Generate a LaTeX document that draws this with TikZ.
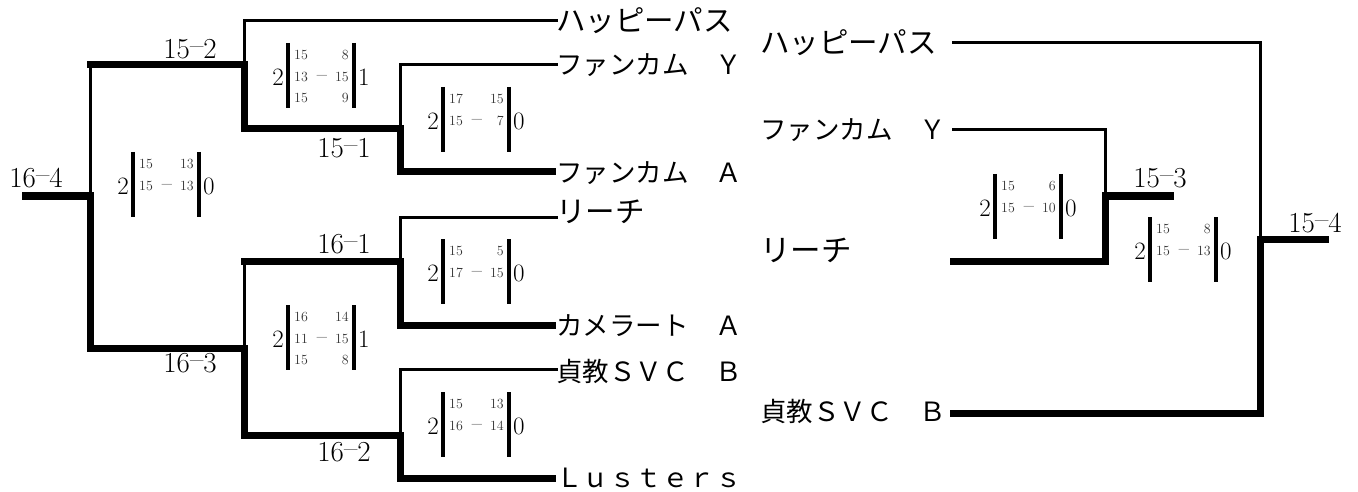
\documentclass[tikz,border=0pt]{standalone}
\usepackage{fontspec}
\newfontfamily\jp{Noto Sans CJK JP}
\newcommand\res[2]{#1\raisebox{0.3ex}{--}#2}
\newcommand\scorebox[5]{%
  \begin{scope}[shift={#2}]
    \draw[scorebar] (0,0) -- (0,65);
    \draw[scorebar] (66,0) -- (66,65);
    \node[bignum, anchor=east] (#1-l) at (-4,34) {#3};
    \node[bignum, anchor=west] (#1-r) at (70,34) {#4};
    \node[dashnum] (#1-d) at (34,35) {--};
    \foreach \r/\a/\b in {#5} {
      \node[smallnum, anchor=west] (#1-a\r) at (6,{12+21.5*(\r-1)}) {\a};
      \node[smallnum, anchor=east] (#1-b\r) at (61,{12+21.5*(\r-1)}) {\b};
    }
  \end{scope}}
\begin{document}
\begin{tikzpicture}[x=1pt,y=-1pt,
  thinln/.style={line width=3pt, line cap=rect, line join=miter},
  thickln/.style={line width=7pt, line cap=rect, line join=miter},
  scorebar/.style={line width=4pt},
  bignum/.style={inner sep=0pt, font=\fontsize{25}{25}\selectfont},
  smallnum/.style={inner sep=0pt, font=\fontsize{14}{14}\selectfont, text=black!80},
  dashnum/.style={inner sep=0pt, font=\fontsize{22}{22}\selectfont},
  result/.style={inner sep=0pt, font=\fontsize{29}{29}\selectfont},
  team/.style={inner sep=0pt, anchor=west, font=\jp\fontsize{26.5}{26.5}\selectfont},
  teamw/.style={inner sep=0pt, anchor=west, font=\jp\fontsize{29.5}{29.5}\selectfont}]
\useasboundingbox (0,0) rectangle (1358,492);

% ---------- left half: junction points ----------
\coordinate (a0) at (25,196);
\coordinate (a1) at (90,196);
\coordinate (a2) at (90,65);
\coordinate (a3) at (90,348);
\coordinate (b0) at (244,21);
\coordinate (b1) at (244,65);
\coordinate (b2) at (244,129);
\coordinate (b3) at (244,261);
\coordinate (b4) at (244,348);
\coordinate (b5) at (244,435);
\coordinate (c1) at (400,65);
\coordinate (c2) at (400,129);
\coordinate (c3) at (400,172);
\coordinate (c4) at (400,217);
\coordinate (c5) at (400,261);
\coordinate (c6) at (400,325);
\coordinate (c7) at (400,369);
\coordinate (c8) at (400,435);
\coordinate (c9) at (400,478);

% left teams
\node[teamw] (L1) at (556,21) {ハッピーパス};
\node[team]  (L2) at (556,65) {ファンカム　Ｙ};
\node[team]  (L3) at (556,173) {ファンカム　Ａ};
\node[teamw] (L4) at (556,212) {リーチ};
\node[team]  (L5) at (556,326) {カメラート　Ａ};
\node[team]  (L6) at (556,371) {貞教ＳＶＣ　Ｂ};
\node[team]  (L7) at (556,478) {Ｌｕｓｔｅｒｓ};

% thin lines
\draw[thinln] (a2) -- (a1);
\draw[thinln] (L1.west |- b0) -- (b0) -- (b1);
\draw[thinln] (L2.west |- c1) -- (c1) -- (c2);
\draw[thinln] (L4.west |- c4) -- (c4) -- (c5);
\draw[thinln] (b3) -- (b4);
\draw[thinln] (L6.west |- c7) -- (c7) -- (c8);

% thick lines
\draw[thickln] (a0) -- (a1) -- (a3) -- (b4) -- (b5) -- (c8) -- (c9) -- ([xshift=-4pt]L7.west |- c9);
\draw[thickln] (a2) -- (b1) -- (b2) -- (c2) -- (c3) -- ([xshift=-4pt]L3.west |- c3);
\draw[thickln] (b3) -- (c5) -- (c6) -- ([xshift=-4pt]L5.west |- c6);

% results
\node[result] (r164) at (36,178) {\res{16}{4}};
\node[result] (r152) at (190,49) {\res{15}{2}};
\node[result] (r163) at (190,363) {\res{16}{3}};
\node[result] (r151) at (344,148) {\res{15}{1}};
\node[result] (r161) at (344,244) {\res{16}{1}};
\node[result] (r162) at (344,452) {\res{16}{2}};

% scores
\scorebox{s1}{(133,152)}{2}{0}{1/15/13, 2/15/13}
\scorebox{s2}{(288,43)}{2}{1}{1/15/8, 2/13/15, 3/15/9}
\scorebox{s3}{(443,87)}{2}{0}{1/17/15, 2/15/7}
\scorebox{s4}{(288,305)}{2}{1}{1/16/14, 2/11/15, 3/15/8}
\scorebox{s5}{(443,239)}{2}{0}{1/15/5, 2/17/15}
\scorebox{s6}{(443,392)}{2}{0}{1/15/13, 2/16/14}

% ---------- right half ----------
\node[teamw] (R1) at (760,43) {ハッピーパス};
\node[team]  (R2) at (760,130) {ファンカム　Ｙ};
\node[inner sep=0pt, anchor=west, font=\jp\fontsize{30.5}{30.5}\selectfont] (R3) at (760,250) {リーチ};
\node[team]  (R4) at (760,411) {貞教ＳＶＣ　Ｂ};

\coordinate (p1) at (953,43);
\coordinate (p2) at (953,130);
\coordinate (p3) at (953,261);
\coordinate (p4) at (953,413);
\coordinate (d1) at (1105,130);
\coordinate (d2) at (1105,196);
\coordinate (d3) at (1105,261);
\coordinate (d4) at (1170,196);
\coordinate (e1) at (1260,43);
\coordinate (e2) at (1260,239);
\coordinate (e3) at (1260,413);
\coordinate (e4) at (1325,239);

\draw[thinln] (p1) -- (e1) -- (e2);
\draw[thinln] (p2) -- (d1) -- (d2);
\draw[thickln] (p3) -- (d3) -- (d2) -- (d4);
\draw[thickln] (p4) -- (e3) -- (e2) -- (e4);

\node[result] (r153) at (1160,178) {\res{15}{3}};
\node[result] (r154) at (1315,223) {\res{15}{4}};

\scorebox{s7}{(995,174)}{2}{0}{1/15/6, 2/15/10}
\scorebox{s8}{(1150,217)}{2}{0}{1/15/8, 2/15/13}
\end{tikzpicture}
\end{document}
